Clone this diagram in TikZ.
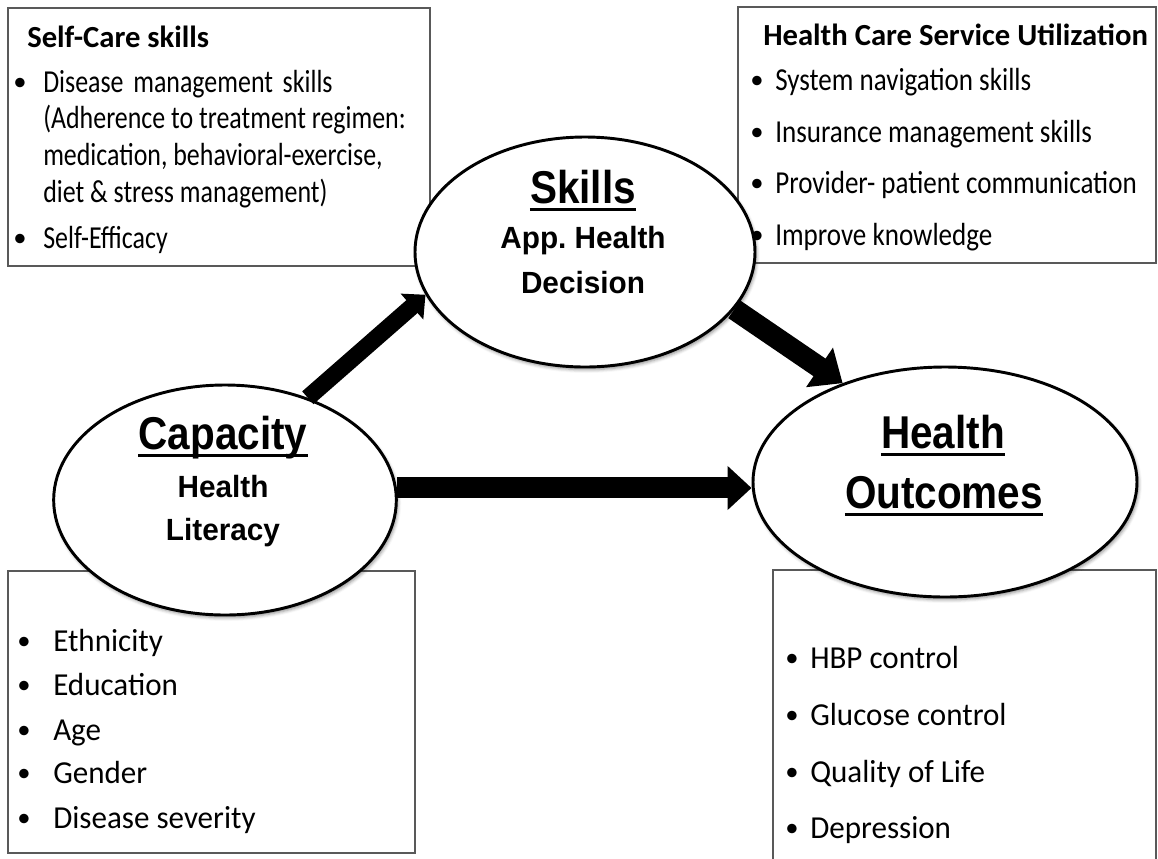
\documentclass[tikz,border=0pt]{standalone}
\usepackage{fontspec}
\setmainfont{Carlito}
\newfontfamily\carefont{Carlito}[FakeStretch=0.81]
\newfontfamily\bodyfont{Carlito}[FakeStretch=0.845]
\newfontfamily\bodywide{Carlito}[FakeStretch=0.97]
\newfontfamily\headfont{Carlito}
\newfontfamily\bigsans{Liberation Sans}[FakeStretch=0.88]
\newfontfamily\smallsans{Liberation Sans}[FakeStretch=0.97]
\usetikzlibrary{arrows.meta,shapes.geometric,shadows.blur,fit}

\tikzset{
  box/.style={draw=black!65, line width=1.1pt, inner sep=0pt},
  bubble/.style={ellipse, draw=black, line width=2.2pt, fill=white, inner sep=0pt,
    blur shadow={shadow xshift=1.2pt, shadow yshift=-2pt, shadow blur radius=2.5pt, shadow opacity=45}},
  careitem/.style={inner sep=0pt, anchor=base west, font=\carefont\fontsize{24pt}{28pt}\selectfont},
  item/.style={inner sep=0pt, anchor=base west, font=\bodyfont\fontsize{24pt}{28pt}\selectfont},
  itemw/.style={inner sep=0pt, anchor=base west, font=\bodywide\fontsize{24pt}{28pt}\selectfont},
  bullet/.style={inner sep=0pt, anchor=base, font=\headfont\fontsize{20pt}{24pt}\selectfont},
  head/.style={inner sep=0pt, anchor=base west, font=\headfont\bfseries\fontsize{23pt}{27pt}\selectfont},
  big/.style={inner sep=0pt, anchor=base, font=\bigsans\bfseries\fontsize{34.5pt}{40pt}\selectfont},
  sub/.style={inner sep=0pt, anchor=base, font=\smallsans\bfseries\fontsize{23pt}{27pt}\selectfont},
  uline/.style={line width=2pt},
  flow/.style={draw=black}
}

\begin{document}
\begin{tikzpicture}[x=0.75pt, y=-0.75pt]
\useasboundingbox (0,0) rectangle (1158,858);
\clip (0,0) rectangle (1158,858);

% text boxes
\node[box, fit={(8,8) (430,266)}] (selfcare) {};
\node[box, fit={(738,7) (1156,263)}] (service) {};
\node[box, fit={(8,571) (415,853)}] (factors) {};
\node[box, fit={(773,570) (1156,890)}] (results) {};

% the three concepts
\node[bubble, minimum width=255pt, minimum height=172.5pt] (skills) at (585,252) {};
\node[bubble, minimum width=257pt, minimum height=172.5pt] (capacity) at (225,500) {};
\node[bubble, minimum width=288pt, minimum height=172.5pt] (outcomes) at (945,482) {};

% paths between concepts
\draw[flow, line width=12.75pt, -{Triangle[length=13.5pt,width=25pt]}] (capacity.51) -- (skills.195);
\draw[flow, line width=16pt, -{Triangle[length=21pt,width=34.5pt]}] (skills.339) -- (outcomes.136);
\draw[flow, line width=15.75pt, -{Triangle[length=18pt,width=32pt]}] (capacity.4) -- (capacity.4 -| outcomes.west);

% concept labels
\node[big] (skT) at (583,203) {Skills};
\node[sub] (skA) at (583,248) {App.\ Health};
\node[sub] (skB) at (583,293) {Decision};
\node[big] (caT) at (223,449) {Capacity};
\node[sub] (caA) at (223,497) {Health};
\node[sub] (caB) at (223,540) {Literacy};
\node[big] (hoA) at (943,448) {Health};
\node[big] (hoB) at (944,508) {Outcomes};
\draw[uline] ([yshift=-5pt]skT.base west) -- ([yshift=-5pt]skT.base east);
\draw[uline] ([yshift=-5pt]caT.base west) -- ([yshift=-5pt]caT.base east);
\draw[uline] ([yshift=-5pt]hoA.base west) -- ([yshift=-5pt]hoA.base east);
\draw[uline] ([yshift=-5pt]hoB.base west) -- ([yshift=-5pt]hoB.base east);

% self-care skills
\node[head] (scT) at (27,47) {Self-Care skills};
\node[bullet] (scD1) at (20,90) {•};
\node[careitem] (sc1) at (43,92) {Disease\hspace{0.12em} management\hspace{0.12em} skills};
\node[careitem] (sc2) at (43,128) {(Adherence to treatment regimen:};
\node[careitem] (sc3) at (43,165) {medication, behavioral-exercise,};
\node[careitem] (sc4) at (43,202) {diet \& stress management)};
\node[bullet] (scD2) at (20,246) {•};
\node[careitem] (sc5) at (43,248) {Self-Efficacy};

% health care service utilization
\node[head] (svT) at (763,45) {Health Care Service Utilization};
\node[bullet] (svD1) at (757,88) {•};
\node[item] (sv1) at (775,90) {System navigation skills};
\node[bullet] (svD2) at (757,140) {•};
\node[item] (sv2) at (775,142) {Insurance management skills};
\node[bullet] (svD3) at (757,191) {•};
\node[item] (sv3) at (775,193) {Provider- patient communication};
\node[bullet] (svD4) at (757,243) {•};
\node[item] (sv4) at (775,245) {Improve knowledge};

% background factors
\node[bullet] (fcD1) at (24,649) {•};
\node[itemw] (fc1) at (53,651) {Ethnicity};
\node[bullet] (fcD2) at (24,693) {•};
\node[itemw] (fc2) at (53,695) {Education};
\node[bullet] (fcD3) at (24,738) {•};
\node[itemw] (fc3) at (53,740) {Age};
\node[bullet] (fcD4) at (24,781) {•};
\node[itemw] (fc4) at (53,783) {Gender};
\node[bullet] (fcD5) at (24,826) {•};
\node[itemw] (fc5) at (53,828) {Disease severity};

% outcome measures
\node[bullet] (rsD1) at (792,666) {•};
\node[itemw] (rs1) at (810,668) {HBP control};
\node[bullet] (rsD2) at (792,723) {•};
\node[itemw] (rs2) at (810,725) {Glucose control};
\node[bullet] (rsD3) at (792,780) {•};
\node[itemw] (rs3) at (810,782) {Quality of Life};
\node[bullet] (rsD4) at (792,836) {•};
\node[itemw] (rs4) at (810,838) {Depression};
\end{tikzpicture}
\end{document}
